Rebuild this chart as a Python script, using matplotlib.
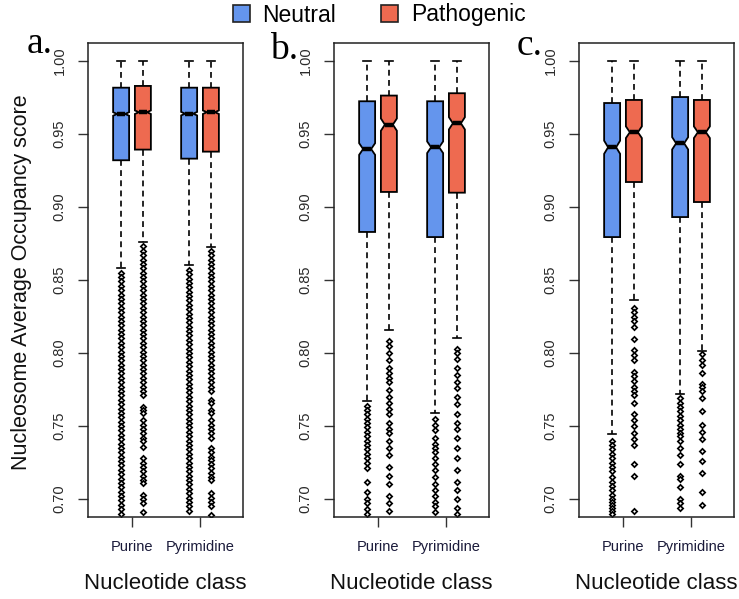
import matplotlib
matplotlib.use("Agg")
import matplotlib.pyplot as plt
from matplotlib.patches import Patch

plt.rcParams['font.family'] = ['Liberation Sans', 'DejaVu Sans']

groups = ['Purine', 'Pyrimidine']
classes = ['Neutral', 'Pathogenic']
colors = {'Neutral': '#6495ED', 'Pathogenic': '#EE6A50'}
panels = ['a.', 'b.', 'c.']

# box statistics per panel: [Purine Neutral, Purine Pathogenic, Pyrimidine Neutral, Pyrimidine Pathogenic]
q1 = [[0.932, 0.9393, 0.9331, 0.9379],
      [0.8829, 0.9103, 0.8794, 0.9098],
      [0.8794, 0.9171, 0.8931, 0.9034]]
med = [[0.9637, 0.9649, 0.9639, 0.9649],
       [0.9397, 0.9564, 0.9409, 0.9573],
       [0.9409, 0.9512, 0.9436, 0.9512]]
q3 = [[0.9817, 0.9829, 0.9817, 0.9817],
      [0.9724, 0.9763, 0.9724, 0.9779],
      [0.9712, 0.9733, 0.9753, 0.9733]]
whis_lo = [[0.8584, 0.8763, 0.8603, 0.8728],
           [0.767, 0.8158, 0.759, 0.810],
           [0.7445, 0.8363, 0.7719, 0.8016]]
whis_hi = [[1.0, 1.0, 1.0, 1.0],
           [1.0, 1.0, 1.0, 1.0],
           [1.0, 1.0, 1.0, 1.0]]
notch_half = [[0.0012, 0.0012, 0.0012, 0.0012],
              [0.0040, 0.0042, 0.0040, 0.0042],
              [0.0045, 0.0040, 0.0042, 0.0040]]

# outliers below the lower whisker
fliers_a_pur_neu = [0.855, 0.852, 0.849, 0.846, 0.843, 0.840, 0.837, 0.834, 0.831, 0.828,
                    0.825, 0.822, 0.819, 0.816, 0.813, 0.810, 0.807, 0.804, 0.801, 0.798,
                    0.795, 0.792, 0.789, 0.786, 0.783, 0.780, 0.777, 0.774, 0.771, 0.768,
                    0.765, 0.762, 0.759, 0.756, 0.753, 0.750, 0.747, 0.744, 0.741, 0.738,
                    0.735, 0.732, 0.729, 0.726, 0.723, 0.720, 0.717, 0.714, 0.711, 0.708,
                    0.705, 0.702, 0.699, 0.696, 0.693, 0.690]
fliers_a_pur_pat = [0.873, 0.870, 0.867, 0.864, 0.861, 0.858, 0.855, 0.852, 0.849, 0.846,
                    0.843, 0.840, 0.837, 0.834, 0.831, 0.828, 0.825, 0.822, 0.819, 0.816,
                    0.813, 0.810, 0.807, 0.804, 0.801, 0.798, 0.795, 0.792, 0.789, 0.786,
                    0.783, 0.780, 0.777, 0.774, 0.771, 0.7632, 0.761, 0.7587, 0.754, 0.751,
                    0.748, 0.745, 0.742, 0.740, 0.7358, 0.728, 0.725, 0.722, 0.719, 0.716,
                    0.713, 0.711, 0.7027, 0.700, 0.697, 0.6913]
fliers_a_pyr_neu = [0.857, 0.854, 0.851, 0.848, 0.845, 0.842, 0.839, 0.836, 0.833, 0.830,
                    0.827, 0.824, 0.821, 0.818, 0.815, 0.812, 0.809, 0.806, 0.803, 0.800,
                    0.797, 0.794, 0.791, 0.788, 0.785, 0.782, 0.779, 0.776, 0.773, 0.770,
                    0.767, 0.764, 0.761, 0.758, 0.755, 0.752, 0.749, 0.746, 0.743, 0.740,
                    0.737, 0.734, 0.731, 0.728, 0.725, 0.722, 0.719, 0.716, 0.713, 0.710,
                    0.707, 0.704, 0.701, 0.698, 0.695, 0.692]
fliers_a_pyr_pat = [0.870, 0.867, 0.864, 0.861, 0.858, 0.855, 0.852, 0.849, 0.846, 0.843,
                    0.840, 0.837, 0.834, 0.831, 0.828, 0.825, 0.822, 0.819, 0.816, 0.813,
                    0.810, 0.807, 0.804, 0.801, 0.798, 0.795, 0.792, 0.789, 0.786, 0.783,
                    0.780, 0.777, 0.774, 0.768, 0.766, 0.761, 0.759, 0.754, 0.751, 0.748,
                    0.745, 0.742, 0.735, 0.732, 0.729, 0.727, 0.724, 0.721, 0.718, 0.715,
                    0.713, 0.704, 0.701, 0.698, 0.695, 0.689]

fliers_b_pur_neu = [0.764, 0.761, 0.758, 0.755, 0.752, 0.749, 0.746, 0.743, 0.740, 0.737,
                    0.734, 0.731, 0.728, 0.725, 0.721, 0.712, 0.705, 0.700, 0.697, 0.693,
                    0.690]
fliers_b_pur_pat = [0.808, 0.805, 0.800, 0.795, 0.790, 0.786, 0.783, 0.780, 0.775, 0.770,
                    0.766, 0.762, 0.758, 0.752, 0.748, 0.745, 0.740, 0.735, 0.730, 0.722,
                    0.716, 0.710, 0.702, 0.697, 0.692]
fliers_b_pyr_neu = [0.755, 0.751, 0.747, 0.742, 0.738, 0.735, 0.732, 0.728, 0.724, 0.720,
                    0.715, 0.710, 0.706, 0.702, 0.698, 0.695, 0.691]
fliers_b_pyr_pat = [0.803, 0.800, 0.796, 0.790, 0.785, 0.780, 0.776, 0.770, 0.765, 0.758,
                    0.752, 0.748, 0.742, 0.735, 0.728, 0.720, 0.712, 0.706, 0.700, 0.694,
                    0.690]

fliers_c_pur_neu = [0.740, 0.737, 0.734, 0.731, 0.728, 0.725, 0.722, 0.719, 0.715, 0.712,
                    0.709, 0.706, 0.703, 0.700, 0.698, 0.696, 0.694, 0.692, 0.690]
fliers_c_pur_pat = [0.8306, 0.8283, 0.825, 0.822, 0.818, 0.8093, 0.802, 0.7985, 0.795, 0.787,
                    0.784, 0.781, 0.777, 0.774, 0.771, 0.766, 0.758, 0.754, 0.750, 0.745,
                    0.741, 0.737, 0.724, 0.716, 0.692]
fliers_c_pyr_neu = [0.769, 0.766, 0.763, 0.760, 0.757, 0.754, 0.751, 0.748, 0.745, 0.743,
                    0.740, 0.735, 0.730, 0.724, 0.716, 0.714, 0.708, 0.700, 0.697, 0.694]
fliers_c_pyr_pat = [0.799, 0.7955, 0.792, 0.786, 0.779, 0.7765, 0.774, 0.769, 0.760, 0.751,
                    0.746, 0.741, 0.733, 0.726, 0.718, 0.705, 0.696]

fliers = [[fliers_a_pur_neu, fliers_a_pur_pat, fliers_a_pyr_neu, fliers_a_pyr_pat],
          [fliers_b_pur_neu, fliers_b_pur_pat, fliers_b_pyr_neu, fliers_b_pyr_pat],
          [fliers_c_pur_neu, fliers_c_pur_pat, fliers_c_pyr_neu, fliers_c_pyr_pat]]

yticks = [0.70, 0.75, 0.80, 0.85, 0.90, 0.95, 1.00]

fig = plt.figure(figsize=(7.39, 5.99), dpi=100)
W, H = 739.0, 599.0
ax_left = [88, 334, 579]
ax_w, ax_top, ax_bot = 155, 43, 517

offset = 0.16
box_w = 0.235
positions = [1 - offset, 1 + offset, 2 - offset, 2 + offset]
box_colors = [colors['Neutral'], colors['Pathogenic'], colors['Neutral'], colors['Pathogenic']]

label_pos = [(27, 53), (270, 59), (517, 55)]

for p in range(3):
    ax = fig.add_axes([ax_left[p] / W, 1 - ax_bot / H, ax_w / W, (ax_bot - ax_top) / H])
    stats = []
    for i in range(4):
        stats.append(dict(med=med[p][i], q1=q1[p][i], q3=q3[p][i],
                          whislo=whis_lo[p][i], whishi=whis_hi[p][i],
                          cilo=med[p][i] - notch_half[p][i], cihi=med[p][i] + notch_half[p][i],
                          fliers=fliers[p][i]))
    bp = ax.bxp(stats, positions=positions, widths=box_w, shownotches=True,
                patch_artist=True, manage_ticks=False,
                boxprops=dict(edgecolor='black', linewidth=1.3),
                medianprops=dict(color='black', linewidth=3.2, solid_capstyle='butt'),
                whiskerprops=dict(color='black', linewidth=1.2, linestyle=(0, (3.5, 2.6))),
                capprops=dict(color='black', linewidth=1.2),
                flierprops=dict(marker='D', markersize=2.7, markerfacecolor='white',
                                markeredgecolor='black', markeredgewidth=1.25, linestyle='none'),
                capwidths=box_w * 0.5)
    for patch, c in zip(bp['boxes'], box_colors):
        patch.set_facecolor(c)

    ax.set_xlim(0.353, 2.632)
    ax.set_ylim(0.6877, 1.0123)
    ax.set_xticks([1, 2])
    ax.set_xticklabels(groups, fontsize=10.5, color='#1a1a3a')
    ax.set_yticks(yticks)
    ax.set_yticklabels(['%.2f' % v for v in yticks], rotation=90, va='center',
                       fontsize=10.5, color='#2a2a2a')
    ax.tick_params(axis='both', direction='out', length=7.5, width=1.0, color='#333333')
    ax.tick_params(axis='y', pad=8)
    ax.tick_params(axis='x', pad=9)
    for s in ax.spines.values():
        s.set_linewidth(1.1)
        s.set_color('#222222')
    ax.set_xlabel('Nucleotide class', fontsize=16, color='#111111', labelpad=14)

    lx, ly = label_pos[p]
    fig.text(lx / W, 1 - ly / H, panels[p], fontsize=27, family='Liberation Serif',
             ha='left', va='baseline')

fig.text(22 / W, 1 - 282 / H, 'Nucleosome Average Occupancy score', rotation=90,
         fontsize=15.5, ha='center', va='center', color='#111111')

handles = [Patch(facecolor=colors[c], edgecolor='#222222', linewidth=1.2, label=c) for c in classes]
fig.legend(handles=handles, loc='center', bbox_to_anchor=(379 / W, 1 - 15 / H), ncol=2,
           frameon=False, fontsize=16.5, handlelength=0.75, handleheight=0.75,
           handletextpad=0.55, columnspacing=1.95)

fig.savefig('out.png', dpi=100)
